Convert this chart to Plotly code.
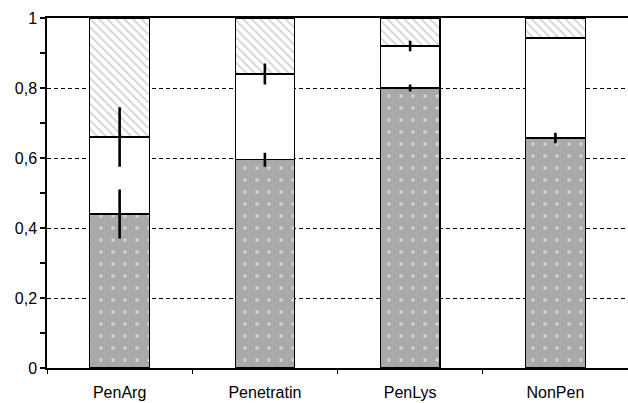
import plotly.graph_objects as go

categories = ["PenArg", "Penetratin", "PenLys", "NonPen"]
# cumulative fractions (top of each segment)
lower_top = [0.44, 0.595, 0.80, 0.657]
middle_top = [0.66, 0.84, 0.92, 0.943]
total = [1.0, 1.0, 1.0, 1.0]
lower_err = [0.07, 0.02, 0.01, 0.015]
middle_err = [0.085, 0.03, 0.015, 0.003]

seg1 = lower_top
seg2 = [m - l for m, l in zip(middle_top, lower_top)]
seg3 = [t - m for t, m in zip(total, middle_top)]

fig = go.Figure()
line = dict(color="black", width=1.2)
fig.add_bar(x=categories, y=seg1, width=0.41,
            marker=dict(color="#a9a9a9", line=line,
                        pattern=dict(shape=".", fgcolor="white", bgcolor="#a9a9a9",
                                     size=12, solidity=0.07, fillmode="overlay")))
fig.add_bar(x=categories, y=seg2, width=0.41,
            marker=dict(color="white", line=line))
fig.add_bar(x=categories, y=seg3, width=0.41,
            marker=dict(color="white", line=line,
                        pattern=dict(shape="\\", fgcolor="#999999", bgcolor="white",
                                     size=6, solidity=0.25, fillmode="overlay")))

errstyle = dict(type="data", thickness=2.6, width=0, color="black")
fig.add_scatter(x=categories, y=lower_top, mode="markers", marker=dict(size=0.1, opacity=0),
                error_y=dict(array=lower_err, **errstyle), hoverinfo="skip")
fig.add_scatter(x=categories, y=middle_top, mode="markers", marker=dict(size=0.1, opacity=0),
                error_y=dict(array=middle_err, **errstyle), hoverinfo="skip")

fig.update_layout(
    barmode="stack", showlegend=False, width=628, height=403,
    margin=dict(l=47, r=0, t=18, b=35),
    plot_bgcolor="white", paper_bgcolor="white",
    separators=", ",
    font=dict(family="Liberation Sans, Arial, sans-serif", size=15, color="black"),
    xaxis=dict(range=[-0.5, 3.5], showline=True, linecolor="black", linewidth=1.5,
               mirror=True, ticks="outside", tickson="boundaries", ticklen=4,
               tickcolor="black", showgrid=False, ticklabelstandoff=9,
               tickfont=dict(size=16)),
    yaxis=dict(range=[0, 1], dtick=0.2, showline=True, linecolor="black", linewidth=1.5,
               ticks="outside", ticklen=5, tickcolor="black", tickwidth=1.5,
               showgrid=True, gridcolor="black", griddash="4px,3px", gridwidth=1,
               zeroline=False, tickfont=dict(size=16),
               minor=dict(dtick=0.1, ticks="outside", ticklen=5, tickcolor="black",
                          tickwidth=1.5, showgrid=False)),
)

fig.write_html("out.html", config={"displayModeBar": False},
               post_script="document.body.style.margin='0';")
